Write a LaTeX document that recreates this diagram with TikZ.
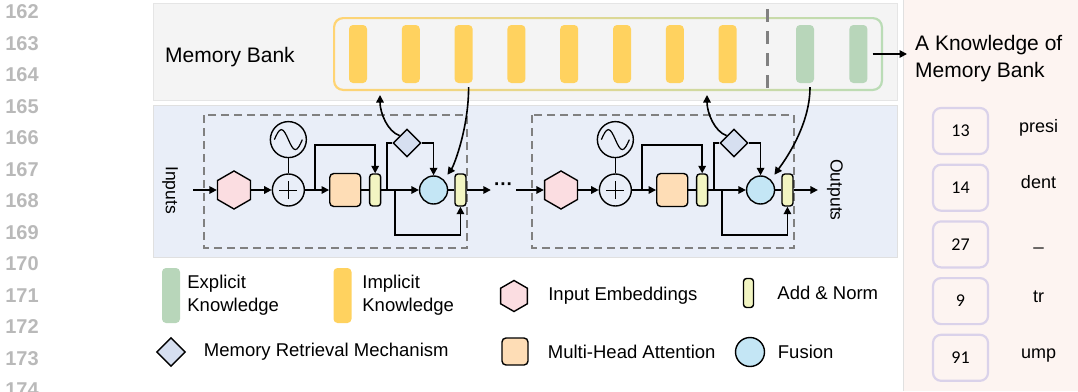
\documentclass[tikz,border=0pt]{standalone}
\usepackage{fontspec}
\setmainfont{Liberation Sans}
\newfontfamily\numfont{Carlito}
\usepackage{tikz}
\usetikzlibrary{shapes.geometric, arrows.meta, positioning, calc}
\definecolor{slotyellow}{RGB}{255, 210, 95}
\definecolor{slotgreen}{RGB}{184, 214, 186}
\definecolor{bankyellow}{RGB}{255, 212, 115}
\definecolor{bankgreen}{RGB}{186, 220, 182}
\definecolor{hexpink}{RGB}{251, 221, 225}
\definecolor{mhapeach}{RGB}{254, 221, 182}
\definecolor{normyellow}{RGB}{242, 245, 194}
\definecolor{fusblue}{RGB}{196, 230, 245}
\definecolor{retrblue}{RGB}{214, 223, 240}
\definecolor{panelgray}{RGB}{244, 244, 244}
\definecolor{panelblue}{RGB}{233, 238, 248}
\definecolor{panelpink}{RGB}{253, 244, 241}
\definecolor{boxlav}{RGB}{218, 210, 234}
\definecolor{dashgray}{RGB}{128, 128, 128}
\definecolor{lnogray}{RGB}{185, 185, 185}
\tikzstyle{arrow} = [line width=1.6pt, ->, >={Triangle[length=7.5pt, width=7.5pt]}, color=black]
\tikzstyle{link} = [line width=1.6pt, color=black]
\tikzstyle{hexa} = [regular polygon, regular polygon sides=6, shape border rotate=30, draw, line width=1.4pt, fill=hexpink, minimum size=38pt, inner sep=0pt]
\tikzstyle{sumnode} = [circle, draw, line width=1.4pt, minimum size=32pt, inner sep=0pt,
    path picture={\draw[line width=0.9pt] ([xshift=-9pt]path picture bounding box.center) -- ([xshift=9pt]path picture bounding box.center)
        ([yshift=-9pt]path picture bounding box.center) -- ([yshift=9pt]path picture bounding box.center);}]
\tikzstyle{wave} = [circle, draw, line width=1.4pt, minimum size=36pt, inner sep=0pt,
    path picture={\draw[line width=1.2pt] ([xshift=-14pt]path picture bounding box.center) sin ([xshift=-7pt, yshift=10pt]path picture bounding box.center)
        cos (path picture bounding box.center) sin ([xshift=7pt, yshift=-10pt]path picture bounding box.center) cos ([xshift=14pt]path picture bounding box.center);}]
\tikzstyle{mha} = [rectangle, rounded corners=4pt, draw, line width=1.4pt, fill=mhapeach, minimum width=31pt, minimum height=33pt, inner sep=0pt]
\tikzstyle{addnorm} = [rectangle, rounded corners=3pt, draw, line width=1.4pt, fill=normyellow, minimum width=11pt, minimum height=32pt, inner sep=0pt]
\tikzstyle{fusion} = [circle, draw, line width=1.4pt, fill=fusblue, minimum size=28pt, inner sep=0pt]
\tikzstyle{retrieval} = [diamond, draw, line width=1.4pt, fill=retrblue, minimum size=28pt, inner sep=0pt]
\tikzstyle{slot} = [rectangle, rounded corners=4pt, minimum width=18pt, minimum height=58pt, inner sep=0pt]
\tikzstyle{kbox} = [rectangle, rounded corners=8pt, draw=boxlav, line width=2.2pt, minimum width=55pt, minimum height=46pt, font=\numfont\fontsize{18}{20}\selectfont]
\tikzstyle{word} = [font=\fontsize{18}{20}\selectfont, text height=13pt, text depth=4pt, inner sep=0pt]
\tikzstyle{legtext} = [font=\fontsize{18.5}{23}\selectfont, align=left, inner sep=0pt, anchor=west]
\tikzstyle{io} = [font=\fontsize{17.5}{20}\selectfont, rotate=-90, inner xsep=0pt, inner ysep=9pt]
\tikzstyle{blockframe} = [draw=dashgray, line width=1.5pt, dash pattern=on 8pt off 5pt]
\tikzstyle{lineno} = [font=\bfseries\fontsize{20}{24}\selectfont, text=lnogray]

\begin{document}
\begin{tikzpicture}[x=1pt, y=-1pt]
    \useasboundingbox (0,0) rectangle (1078,391);
    \fill[panelpink] (903,0) rectangle (1078,391);
    \draw[line width=0.8pt, black!12] (903,0) -- (903,391);
    \filldraw[fill=panelgray, draw=black!10, line width=0.8pt] (153,3) rectangle (897,100);
    \filldraw[fill=panelblue, draw=black!12, line width=0.8pt] (153,105) rectangle (897,257);

    \foreach \lno [count=\i from 0] in {162,...,174}
        \node (ln\lno) [lineno] at (22,{12+31.5*\i}) {\lno};

    \node (mbank) [anchor=west, inner sep=0pt, font=\fontsize{21}{25}\selectfont] at (165,57) {Memory Bank};
    \shade[left color=bankyellow, right color=bankgreen, even odd rule, rounded corners=10pt]
        (333,17) rectangle (883,91) [rounded corners=8pt] (335.2,19.2) rectangle (880.8,88.8);
    \node (s1) [slot, fill=slotyellow] at (358,54) {};
    \node (s2) [slot, fill=slotyellow, right=34.4pt of s1] {};
    \node (s3) [slot, fill=slotyellow, right=34.4pt of s2] {};
    \node (s4) [slot, fill=slotyellow, right=34.4pt of s3] {};
    \node (s5) [slot, fill=slotyellow, right=34.4pt of s4] {};
    \node (s6) [slot, fill=slotyellow, right=34.4pt of s5] {};
    \node (s7) [slot, fill=slotyellow, right=34.4pt of s6] {};
    \node (s8) [slot, fill=slotyellow, right=34.4pt of s7] {};
    \node (s9) [slot, fill=slotgreen, right=59pt of s8] {};
    \node (s10) [slot, fill=slotgreen, right=35pt of s9] {};
    \draw[dashgray, line width=3pt, dash pattern=on 13pt off 9pt] (767,9) -- (767,97);
    \node (know) [anchor=west, align=left, inner xsep=8pt, font=\fontsize{21}{27}\selectfont] at (907,58.5) {A Knowledge of\\Memory Bank};
    \draw [arrow, shorten <=5pt] (s10) -- (s10 -| know.west);

    \draw[blockframe] (204,115) rectangle (467,248);
    \draw[blockframe] (532,115) rectangle (794,248);

    \node (in) [io] at (170,190) {Inputs};
    \node (hex1) [hexa] at (234,190) {};
    \node (plus1) [sumnode, right=20.5pt of hex1] {};
    \node (sin1) [wave, above=15pt of plus1] {};
    \node (mha1) [mha, right=24pt of plus1] {};
    \node (an1) [addnorm, right=7.5pt of mha1] {};
    \node (fus1) [fusion, right=37.5pt of an1] {};
    \node (an2) [addnorm, right=6pt of fus1] {};
    \node (dia1) [retrieval] at (407,143) {};
    \coordinate (br1) at ([xshift=10pt]plus1.east);
    \coordinate (br2) at ([xshift=5.5pt]an1.east);
    \coordinate (br3) at ([xshift=13.5pt]an1.east);
    \coordinate (up1) at (380,95);
    \draw [arrow, shorten <=6pt] (in) -- (hex1);
    \draw [arrow] (hex1) -- (plus1);
    \draw [link] (sin1) -- (plus1);
    \draw [arrow] (plus1) -- (mha1);
    \draw [arrow] (br1) -- ++(0,-45) -| (an1.north);
    \draw [link] (mha1) -- (an1);
    \draw [arrow] (an1) -- (fus1);
    \draw [link] (br2) |- (dia1.west);
    \draw [arrow] (dia1.east) -| (fus1.north);
    \draw [arrow] (br3) -- ++(0,45) -| (an2.south);
    \draw [link] (fus1) -- (an2);
    \draw [arrow] (dia1.north west) .. controls +(-12,-4) and +(0,18) .. (up1);
    \draw [arrow, shorten <=4pt, shorten >=6pt] ([xshift=5pt]s3.south) .. controls +(0,45) and +(10,-14) .. (fus1.north east);

    \node (dots) [inner sep=3pt, font=\bfseries\fontsize{19}{19}\selectfont] at (503.5,187) {···};
    \draw [arrow] (an2) -- (an2 -| dots.west);

    \node (hex2) [hexa] at (561,190) {};
    \node (plus2) [sumnode, right=20.5pt of hex2] {};
    \node (sin2) [wave, above=15pt of plus2] {};
    \node (mha2) [mha, right=24pt of plus2] {};
    \node (an3) [addnorm, right=7.5pt of mha2] {};
    \node (fus2) [fusion, right=37.5pt of an3] {};
    \node (an4) [addnorm, right=6pt of fus2] {};
    \node (dia2) [retrieval] at (734,143) {};
    \node (out) [io] at (835,190) {Outputs};
    \coordinate (br4) at ([xshift=10pt]plus2.east);
    \coordinate (br5) at ([xshift=5.5pt]an3.east);
    \coordinate (br6) at ([xshift=13.5pt]an3.east);
    \coordinate (up2) at (707,95);
    \draw [arrow] (hex2 -| dots.east) -- (hex2);
    \draw [arrow] (hex2) -- (plus2);
    \draw [link] (sin2) -- (plus2);
    \draw [arrow] (plus2) -- (mha2);
    \draw [arrow] (br4) -- ++(0,-45) -| (an3.north);
    \draw [link] (mha2) -- (an3);
    \draw [arrow] (an3) -- (fus2);
    \draw [link] (br5) |- (dia2.west);
    \draw [arrow] (dia2.east) -| (fus2.north);
    \draw [arrow] (br6) -- ++(0,45) -| (an4.south);
    \draw [link] (fus2) -- (an4);
    \draw [arrow] (an4) -- (out);
    \draw [arrow] (dia2.north west) .. controls +(-12,-4) and +(0,18) .. (up2);
    \draw [arrow, shorten <=4pt, shorten >=6pt] ([xshift=5pt]s9.south) .. controls +(0,45) and +(10,-14) .. (fus2.north east);

    \node (lg-exp) [slot, fill=slotgreen, minimum height=55pt] at (171,295.5) {};
    \node (lt-exp) [legtext, right=7pt of lg-exp] {Explicit\\Knowledge};
    \node (lg-imp) [slot, fill=slotyellow, minimum height=55pt] at (342.5,295.5) {};
    \node (lt-imp) [legtext, right=10.5pt of lg-imp] {Implicit\\Knowledge};
    \node (lg-hex) [hexa, minimum size=31pt] at (514,296) {};
    \node (lt-hex) [legtext, right=20pt of lg-hex] {Input Embeddings};
    \node (lg-an) [addnorm, minimum width=10pt, minimum height=29pt] at (748.5,293) {};
    \node (lt-an) [legtext, right=23pt of lg-an] {Add \& Norm};
    \node (lg-dia) [retrieval, minimum size=29pt] at (171,352) {};
    \node (lt-dia) [legtext, right=17.5pt of lg-dia] {Memory Retrieval Mechanism};
    \node (lg-mha) [mha, minimum width=26pt, minimum height=27pt] at (515,351.5) {};
    \node (lt-mha) [legtext, right=19pt of lg-mha] {Multi-Head Attention};
    \node (lg-fus) [fusion, minimum size=29pt] at (750,352) {};
    \node (lt-fus) [legtext, right=12.5pt of lg-fus] {Fusion};

    \node (k1) [kbox] at (960.5,131) {13};
    \node (k2) [kbox, below=8.5pt of k1] {14};
    \node (k3) [kbox, below=8.5pt of k2] {27};
    \node (k4) [kbox, below=8.5pt of k3] {9};
    \node (k5) [kbox, below=8.5pt of k4] {91};
    \node (w1) [word] at ([xshift=78pt, yshift=3.5pt]k1.center) {presi};
    \node (w2) [word] at ([xshift=78pt, yshift=3.5pt]k2.center) {dent};
    \node (w3) [word] at ([xshift=78pt, yshift=3.5pt]k3.center) {\_};
    \node (w4) [word] at ([xshift=78pt, yshift=3.5pt]k4.center) {tr};
    \node (w5) [word] at ([xshift=78pt, yshift=3.5pt]k5.center) {ump};
\end{tikzpicture}
\end{document}
